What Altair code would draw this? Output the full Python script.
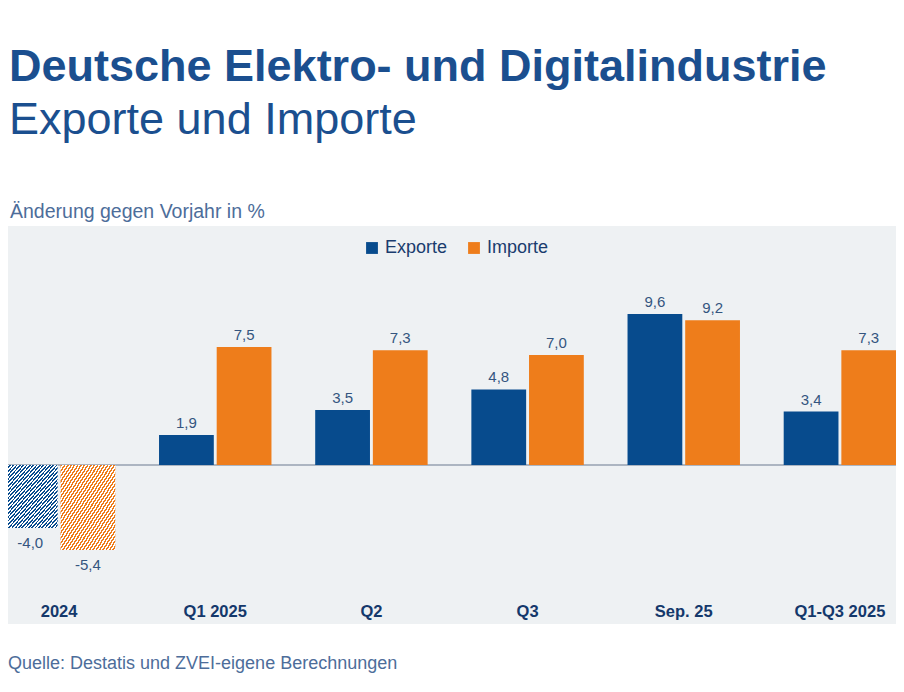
import altair as alt
import pandas as pd

# ---- data ----
categories = ["2024", "Q1 2025", "Q2", "Q3", "Sep. 25", "Q1-Q3 2025"]
series = ["Exporte", "Importe"]
exporte = [-4.0, 1.9, 3.5, 4.8, 9.6, 3.4]
importe = [-5.4, 7.5, 7.3, 7.0, 9.2, 7.3]
hatched_categories = ["2024"]

title_line1 = "Deutsche Elektro- und Digitalindustrie"
title_line2 = "Exporte und Importe"
y_title = "Änderung gegen Vorjahr in %"
source_text = "Quelle: Destatis und ZVEI-eigene Berechnungen"

# ---- styling ----
BLUE = "#074b8d"
ORANGE = "#ee7d1b"
FONT = "Liberation Sans"
BG = "#eef1f3"

rows = []
for cat, e, i in zip(categories, exporte, importe):
    for s, v in (("Exporte", e), ("Importe", i)):
        rows.append({
            "Kategorie": cat,
            "Serie": s,
            "Wert": v,
            "Label": f"{v:.1f}".replace(".", ","),
            "Schraffiert": cat in hatched_categories,
        })
df = pd.DataFrame(rows)
df_cat = pd.DataFrame({"Kategorie": categories})

W, H = 888, 398
y_dom = [-10.108, 15.194]

x_enc = alt.X("Kategorie:N",
              scale=alt.Scale(domain=categories, range=[-27, 910],
                              paddingInner=0.28, paddingOuter=0.14),
              axis=None)
xo_enc = alt.XOffset("Serie:N", scale=alt.Scale(domain=series, paddingInner=0.05))
y_enc = alt.Y("Wert:Q", scale=alt.Scale(domain=y_dom, nice=False, zero=False), axis=None)


def stripes(color, n=33):
    stops = []
    for k in range(n):
        stops.append(alt.GradientStop(color=color, offset=k / n))
        stops.append(alt.GradientStop(color=color, offset=(k + 0.5) / n))
        stops.append(alt.GradientStop(color="#ffffff", offset=(k + 0.5) / n))
        stops.append(alt.GradientStop(color="#ffffff", offset=(k + 1) / n))
    return alt.Gradient(gradient="linear", stops=stops, x1=0, y1=0, x2=1, y2=1)


base = alt.Chart(df)

zero_rule = alt.Chart(pd.DataFrame({"z": [0]})).mark_rule(
    color="#6a7a90", strokeWidth=1.2
).encode(y=alt.Y("z:Q", scale=alt.Scale(domain=y_dom, nice=False, zero=False), axis=None))

bars = base.transform_filter("!datum.Schraffiert").mark_bar().encode(
    x=x_enc, xOffset=xo_enc, y=y_enc, y2=alt.datum(0),
    color=alt.Color("Serie:N", scale=alt.Scale(domain=series, range=[BLUE, ORANGE]),
                    legend=alt.Legend(orient="none", direction="horizontal",
                                      legendX=355, legendY=13, title=None,
                                      symbolType="square", symbolSize=140,
                                      symbolStrokeWidth=0, labelFontSize=18,
                                      labelFont=FONT, labelColor="#1a3c6e",
                                      labelOffset=4, columnPadding=17, padding=0)),
)

hatch_exp = base.transform_filter(
    "datum.Schraffiert && datum.Serie == 'Exporte'"
).mark_bar(fill=stripes(BLUE)).encode(x=x_enc, xOffset=xo_enc, y=y_enc, y2=alt.datum(0))

hatch_imp = base.transform_filter(
    "datum.Schraffiert && datum.Serie == 'Importe'"
).mark_bar(fill=stripes(ORANGE)).encode(x=x_enc, xOffset=xo_enc, y=y_enc, y2=alt.datum(0))

labels_pos = base.transform_filter("datum.Wert >= 0").mark_text(
    baseline="alphabetic", dy=-7, fontSize=15, font=FONT, color="#34557f"
).encode(x=x_enc, xOffset=xo_enc, y=y_enc, text="Label:N")

labels_neg = base.transform_filter("datum.Wert < 0").mark_text(
    baseline="top", dy=8, fontSize=15, font=FONT, color="#34557f"
).encode(x=x_enc, xOffset=xo_enc, y=y_enc, text="Label:N")

cat_labels = alt.Chart(df_cat).mark_text(
    baseline="alphabetic", fontSize=16.5, fontWeight="bold", font=FONT, color="#14386b"
).encode(x=x_enc, y=alt.value(391), text="Kategorie:N")


def text_layer(txt, x, y, size, color, weight="normal"):
    return alt.Chart(pd.DataFrame({"t": [txt]})).mark_text(
        align="left", baseline="alphabetic", fontSize=size, font=FONT,
        fontWeight=weight, color=color
    ).encode(text="t:N", x=alt.value(x), y=alt.value(y))


t1 = text_layer(title_line1, 1, -145, 45, "#1b4f8f", "bold")
t2 = text_layer(title_line2, 1, -92, 45, "#1b4f8f")
t3 = text_layer(y_title, 2, -8, 19.5, "#4d6d9a")
t4 = text_layer(source_text, 0, 443, 18, "#4d6d9a")

chart = alt.layer(
    zero_rule, bars, hatch_exp, hatch_imp, labels_pos, labels_neg, cat_labels,
    t1, t2, t3, t4
).properties(
    width=W, height=H,
    autosize=alt.AutoSizeParams(type="none"),
    padding={"left": 0, "top": 218, "right": 0, "bottom": 59},
    background="white",
).configure_view(fill=BG, strokeWidth=0)

chart.save("out.html", embed_options={"renderer": "svg", "actions": False})
